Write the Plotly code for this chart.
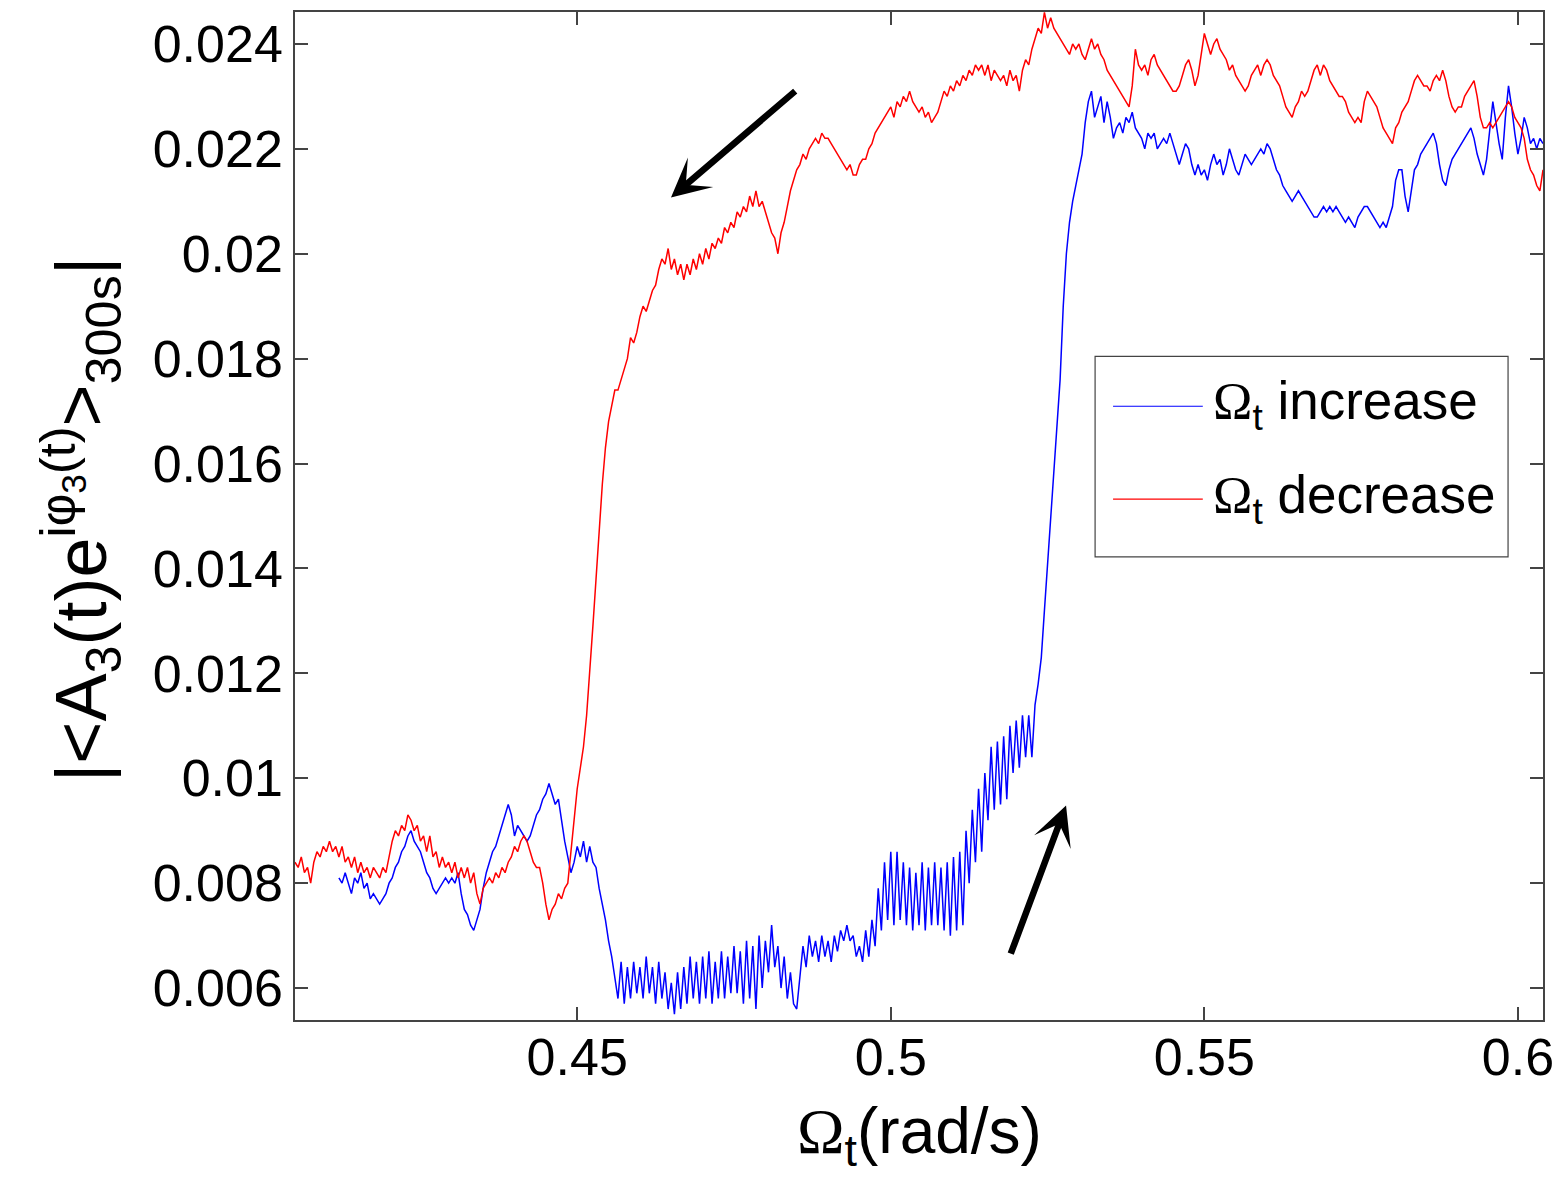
import numpy as np
import plotly.graph_objects as go

# Sampling step of the swept rotation rate Omega_t (rad/s)
STEP = 0.0005

# ---- Omega_t increase (blue); values in units of 1e-4 ----
inc_starts = [0.412, 0.42, 0.43, 0.44, 0.45, 0.46, 0.47, 0.48, 0.49, 0.50,
              0.51, 0.52, 0.53, 0.54, 0.55, 0.56, 0.57, 0.58, 0.59, 0.60]
inc_vals = [
    [81, 80, 82, 80, 78, 81, 80, 82, 79, 80, 77, 78, 77, 76, 77, 78],
    [80, 81, 83, 84, 86, 87, 89, 90, 88, 87, 86, 84, 82, 81, 79, 78, 79, 80, 81, 80],
    [81, 80, 82, 78, 75, 74, 72, 71, 73, 75, 79, 82, 84, 86, 87, 89, 91, 93, 95, 93],
    [89, 91, 90, 89, 88, 89, 91, 93, 94, 96, 97, 99, 97, 95, 96, 92, 88, 85, 82, 84],
    [87, 85, 88, 84, 87, 84, 83, 79, 76, 73, 69, 66, 62, 58, 65, 57, 64, 58, 65, 59],
    [64, 58, 66, 59, 64, 57, 65, 58, 63, 56, 61, 55, 63, 56, 64, 57, 66, 58, 65, 57],
    [66, 58, 67, 57, 65, 58, 67, 58, 66, 59, 68, 59, 67, 57, 69, 58, 68, 56, 70, 60],
    [69, 63, 72, 64, 68, 60, 66, 58, 63, 57, 56, 62, 68, 64, 70, 66, 69, 65, 70, 66],
    [69, 65, 70, 67, 71, 69, 72, 69, 70, 66, 68, 65, 71, 66, 73, 68, 79, 71, 84, 73],
    [86, 72, 86, 73, 84, 72, 83, 71, 82, 72, 84, 71, 83, 72, 84, 72, 83, 71, 84, 70],
    [85, 71, 86, 72, 90, 80, 94, 84, 98, 86, 101, 92, 106, 94, 107, 95, 108, 96, 110, 101],
    [111, 102, 112, 104, 112, 104, 114, 118, 123, 132, 141, 150, 158, 168, 176, 190, 200, 206, 210, 213],
    [216, 219, 225, 229, 231, 226, 228, 230, 225, 229, 226, 222, 224, 225, 223, 226, 225, 227, 224, 223],
    [222, 220, 223, 222, 223, 220, 221, 222, 221, 223, 221, 219, 217, 219, 221, 220, 217, 215, 217, 215],
    [216, 214, 217, 219, 217, 218, 215, 217, 220, 218, 216, 215, 217, 219, 218, 217, 218, 219, 220, 219],
    [221, 220, 218, 216, 215, 213, 212, 211, 210, 211, 212, 211, 210, 209, 208, 207, 207, 208, 209, 208],
    [209, 208, 209, 208, 207, 206, 207, 206, 205, 207, 208, 209, 209, 208, 207, 206, 205, 206, 205, 207],
    [209, 214, 216, 216, 211, 208, 212, 216, 217, 219, 220, 221, 222, 223, 221, 217, 214, 213, 216, 218],
    [219, 220, 221, 222, 223, 224, 222, 219, 217, 215, 218, 223, 229, 225, 221, 218, 226, 232, 228, 223],
    [219, 222, 226, 224, 221, 222, 220, 222, 221],
]

# ---- Omega_t decrease (red); values in units of 1e-4 ----
dec_starts = [0.405, 0.41, 0.42, 0.43, 0.44, 0.45, 0.46, 0.47, 0.48, 0.49, 0.50,
              0.51, 0.52, 0.53, 0.54, 0.55, 0.56, 0.57, 0.58, 0.59, 0.60]
dec_vals = [
    [84, 83, 85, 82, 83, 80, 84, 86, 85, 87],
    [86, 88, 86, 87, 85, 87, 84, 85, 83, 85, 82, 84, 82, 83, 81, 83, 82, 81, 83, 82],
    [85, 88, 90, 89, 91, 90, 93, 92, 90, 91, 88, 89, 86, 89, 85, 86, 83, 85, 83, 84],
    [82, 84, 81, 83, 81, 83, 80, 82, 78, 76, 79, 80, 81, 80, 82, 81, 83, 82, 84, 85],
    [87, 86, 88, 89, 88, 86, 84, 83, 83, 80, 76, 73, 75, 76, 78, 77, 79, 80, 86, 91],
    [98, 102, 106, 112, 120, 129, 138, 148, 156, 163, 168, 171, 174, 174, 176, 178, 180, 184, 183, 185],
    [188, 190, 189, 191, 193, 194, 197, 199, 198, 201, 197, 199, 196, 198, 195, 198, 196, 199, 197, 200],
    [198, 201, 199, 202, 201, 203, 202, 205, 204, 206, 205, 208, 207, 209, 208, 211, 209, 212, 209, 210],
    [208, 206, 204, 203, 200, 204, 206, 209, 212, 214, 216, 217, 219, 218, 220, 221, 222, 221, 223, 222],
    [222, 221, 220, 219, 218, 217, 216, 217, 215, 215, 217, 218, 218, 220, 221, 223, 224, 225, 226, 227],
    [228, 226, 229, 228, 230, 229, 231, 229, 228, 227, 228, 226, 227, 225, 226, 227, 229, 231, 230, 232],
    [231, 233, 232, 234, 233, 235, 234, 236, 235, 236, 234, 236, 233, 235, 234, 233, 234, 232, 235, 233],
    [234, 231, 235, 237, 236, 239, 241, 243, 242, 246, 243, 245, 243, 242, 241, 240, 239, 238, 240, 239],
    [240, 238, 237, 239, 241, 239, 240, 238, 237, 235, 234, 233, 232, 231, 230, 229, 228, 232, 239, 236],
    [235, 236, 234, 237, 238, 236, 235, 234, 233, 232, 231, 231, 232, 234, 236, 237, 235, 232, 234, 238],
    [242, 240, 238, 240, 241, 239, 238, 237, 235, 236, 234, 233, 232, 231, 232, 234, 235, 236, 234, 236],
    [237, 236, 234, 233, 232, 230, 228, 227, 226, 228, 229, 231, 230, 231, 233, 235, 236, 234, 236, 235],
    [233, 232, 231, 230, 230, 229, 227, 226, 225, 226, 225, 229, 231, 230, 229, 228, 226, 224, 223, 222],
    [221, 224, 225, 227, 228, 229, 231, 233, 234, 233, 232, 232, 231, 233, 234, 233, 235, 233, 230, 228],
    [227, 228, 228, 230, 231, 232, 233, 230, 226, 224, 224, 225, 224, 225, 226, 227, 228, 229, 228, 226],
    [225, 224, 222, 218, 216, 215, 213, 212, 216],
]

# ---- tick labels ----
x_tick_vals = [0.45, 0.5, 0.55, 0.6]
x_tick_text = ["0.45", "0.5", "0.55", "0.6"]
y_tick_vals = [0.006, 0.008, 0.010, 0.012, 0.014, 0.016, 0.018, 0.020, 0.022, 0.024]
y_tick_text = ["0.006", "0.008", "0.01", "0.012", "0.014", "0.016", "0.018", "0.02", "0.022", "0.024"]

X_RANGE = [0.4050, 0.6040]
Y_RANGE = [0.005391, 0.024609]


def build(starts, segs):
    xs, ys = [], []
    for s, seg in zip(starts, segs):
        for i, v in enumerate(seg):
            xs.append(s + STEP * i)
            ys.append(v * 1e-4)
    return np.array(xs), np.array(ys)


x_inc, y_inc = build(inc_starts, inc_vals)
x_dec, y_dec = build(dec_starts, dec_vals)

SANS = "Liberation Sans, Arial, sans-serif"
OMEGA = '<span style="font-family:Liberation Serif">\u03a9</span>'

fig = go.Figure()
fig.add_trace(go.Scatter(x=x_inc, y=y_inc, mode="lines", name="\u03a9t increase",
                         line=dict(color="#0000ff", width=1.5), showlegend=False))
fig.add_trace(go.Scatter(x=x_dec, y=y_dec, mode="lines", name="\u03a9t decrease",
                         line=dict(color="#ff0000", width=1.5), showlegend=False))

axis_common = dict(
    showgrid=False, zeroline=False, showline=True, linecolor="#444", linewidth=1.5,
    mirror="ticks", ticks="inside", ticklen=13, tickwidth=1.5, tickcolor="#444",
    tickfont=dict(family=SANS, size=52, color="black"),
)

fig.update_xaxes(range=X_RANGE, tickmode="array", tickvals=x_tick_vals,
                 ticktext=x_tick_text, ticklabelstandoff=-9, **axis_common)
fig.update_yaxes(range=Y_RANGE, tickmode="array", tickvals=y_tick_vals,
                 ticktext=y_tick_text, ticklabelstandoff=0, **axis_common)

annotations = [
    # x-axis title
    dict(text=OMEGA + "<sub>t</sub>(rad/s)", xref="paper", yref="paper",
         x=0.5, y=-0.114, xanchor="center", yanchor="middle", showarrow=False,
         font=dict(family=SANS, size=64, color="black")),
    # y-axis title
    dict(text="|&lt;A<sub>3</sub>(t)e<sup>i\u03c6<sub>3</sub>(t)</sup>&gt;<sub>300s</sub>|",
         xref="paper", yref="paper", x=-0.172, y=0.497, xanchor="center",
         yanchor="middle", textangle=-90, showarrow=False,
         font=dict(family=SANS, size=72, color="black")),
    # arrows
    dict(x=0.46495, y=0.02107, ax=0.4850, ay=0.023125, xref="x", yref="y",
         axref="x", ayref="y", text="", showarrow=True, arrowhead=3,
         arrowsize=1.0, arrowwidth=6.5, arrowcolor="black"),
    dict(x=0.52795, y=0.00948, ax=0.51904, ay=0.006626, xref="x", yref="y",
         axref="x", ayref="y", text="", showarrow=True, arrowhead=3,
         arrowsize=1.0, arrowwidth=6.5, arrowcolor="black"),
    # legend labels
    dict(text=OMEGA + "<sub>t</sub> increase", xref="paper", yref="paper",
         x=0.7338, y=0.611, xanchor="left", yanchor="middle", showarrow=False,
         font=dict(family=SANS, size=53, color="black")),
    dict(text=OMEGA + "<sub>t</sub> decrease", xref="paper", yref="paper",
         x=0.7338, y=0.517, xanchor="left", yanchor="middle", showarrow=False,
         font=dict(family=SANS, size=53, color="black")),
]

shapes = [
    dict(type="rect", xref="paper", yref="paper", x0=0.6411, x1=0.9720,
         y0=0.4594, y1=0.6584, line=dict(color="#444", width=1.2),
         fillcolor="white", layer="above"),
    dict(type="line", xref="paper", yref="paper", x0=0.6555, x1=0.7274,
         y0=0.6089, y1=0.6089, line=dict(color="#0000ff", width=1.2)),
    dict(type="line", xref="paper", yref="paper", x0=0.6555, x1=0.7274,
         y0=0.5168, y1=0.5168, line=dict(color="#ff0000", width=1.2)),
]

fig.update_layout(
    width=1564, height=1183,
    margin=dict(l=295, r=18, t=10, b=163),
    plot_bgcolor="white", paper_bgcolor="white",
    showlegend=False,
    annotations=annotations,
    shapes=shapes,
)

fig.write_html("out.html")
